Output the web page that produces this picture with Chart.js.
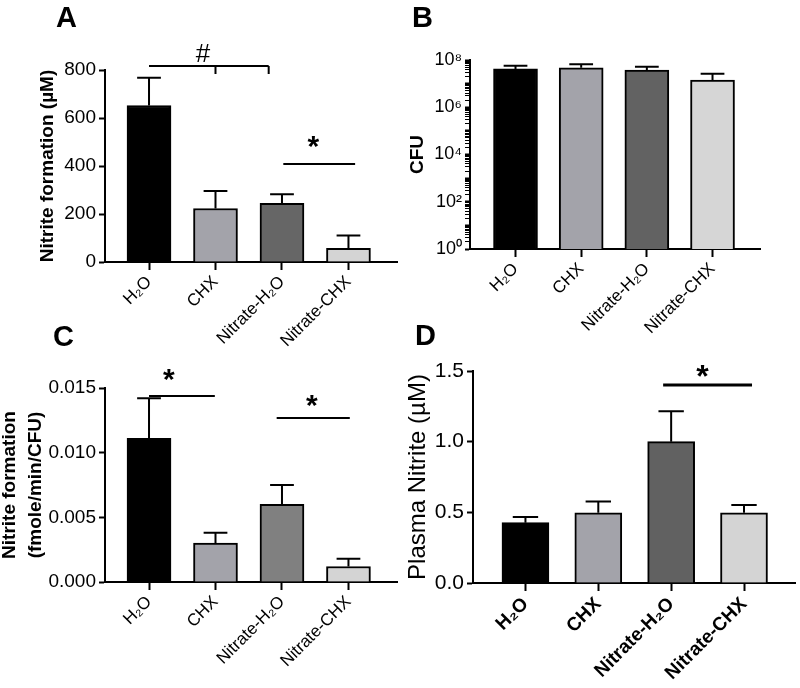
<!DOCTYPE html>
<html>
<head>
<meta charset="utf-8">
<script src="https://cdn.jsdelivr.net/npm/chart.js@4.4.1/dist/chart.umd.min.js"></script>
<style>
  body { margin: 0; background: #fff; width: 800px; height: 688px; position: relative; overflow: hidden; }
  canvas { position: absolute; }
  .tag { position: absolute; font: bold 29px "Liberation Sans", Arial, sans-serif; line-height: 1; color: #000; }
</style>
</head>
<body>
<canvas id="chartA" width="400" height="360" style="left:0;top:0"></canvas>
<canvas id="chartB" width="400" height="360" style="left:400px;top:0"></canvas>
<canvas id="chartC" width="400" height="358" style="left:0;top:330px"></canvas>
<canvas id="chartD" width="400" height="358" style="left:400px;top:330px"></canvas>
<div class="tag" style="left:56px;top:3px">A</div>
<div class="tag" style="left:412px;top:3px">B</div>
<div class="tag" style="left:53px;top:322px">C</div>
<div class="tag" style="left:415px;top:321px">D</div>
<script>
const groups = ['H₂O', 'CHX', 'Nitrate-H₂O', 'Nitrate-CHX'];

// A - nitrite formation (µM), mean and SEM
const nitriteMean = [652, 223, 244, 57];
const nitriteSem = [116, 73, 38, 53];

// B - CFU (log axis)
const cfuMean = [4.2e7, 4.7e7, 3.7e7, 1.4e7];
const cfuSem = [1.5e7, 1.9e7, 1.5e7, 1.2e7];
const cfuTickLabels = ['10⁰', '10²', '10⁴', '10⁶', '10⁸'];

// C - nitrite formation per CFU (fmole/min/CFU)
const perCfuMean = [0.0111, 0.0030, 0.0060, 0.0012];
const perCfuSem = [0.0031, 0.0008, 0.0015, 0.0006];

// D - plasma nitrite (µM)
const plasmaMean = [0.427, 0.497, 1.0, 0.497];
const plasmaSem = [0.04, 0.08, 0.215, 0.055];

const FONT = "'Liberation Sans', Arial, sans-serif";
Chart.defaults.font.family = FONT;
Chart.defaults.color = '#000';

// error bars (upper only) + significance brackets
const extras = {
    id: 'extras',
    afterDatasetsDraw(chart, args, opts) {
        const ctx = chart.ctx;
        const xs = chart.scales.x, ys = chart.scales.y;
        const meta = chart.getDatasetMeta(0);
        ctx.save();
        ctx.strokeStyle = '#000';
        ctx.fillStyle = '#000';
        ctx.lineWidth = 2;
        meta.data.forEach((bar, i) => {
            const top = ys.getPixelForValue(opts.means[i] + opts.errors[i]);
            const half = bar.width * 0.27;
            ctx.beginPath();
            ctx.moveTo(bar.x, bar.y);
            ctx.lineTo(bar.x, top);
            ctx.moveTo(bar.x - half, top);
            ctx.lineTo(bar.x + half, top);
            ctx.stroke();
        });
        (opts.marks || []).forEach(m => {
            const y = ys.getPixelForValue(m.y);
            ctx.lineWidth = m.lw || 2;
            ctx.beginPath();
            ctx.moveTo(xs.getPixelForValue(m.from), y);
            ctx.lineTo(xs.getPixelForValue(m.to), y);
            (m.ticks || []).forEach(t => {
                const tx = xs.getPixelForValue(t);
                ctx.moveTo(tx, y);
                ctx.lineTo(tx, y + 8);
            });
            ctx.stroke();
            ctx.font = m.font;
            ctx.textAlign = 'center';
            ctx.textBaseline = 'alphabetic';
            const tm = ctx.measureText(m.text);
            const cy = y - m.lift;
            ctx.fillText(m.text, xs.getPixelForValue(m.tx),
                cy + (tm.actualBoundingBoxAscent - tm.actualBoundingBoxDescent) / 2);
        });
        ctx.restore();
    }
};

function makeChart(id, cfg) {
    return new Chart(document.getElementById(id), {
        type: 'bar',
        data: {
            datasets: [{
                data: cfg.means.map((v, i) => ({ x: i, y: v })),
                backgroundColor: cfg.colors,
                borderColor: '#000',
                borderWidth: 2,
                barThickness: cfg.barW
            }]
        },
        options: {
            responsive: false,
            animation: false,
            layout: { padding: { top: cfg.padTop, right: cfg.padRight, left: 0, bottom: 0 } },
            plugins: {
                legend: { display: false },
                tooltip: { enabled: false },
                extras: { means: cfg.means, errors: cfg.errors, marks: cfg.marks }
            },
            scales: {
                x: {
                    type: 'linear',
                    min: cfg.xMin,
                    max: cfg.xMax,
                    offset: false,
                    afterBuildTicks: s => { s.ticks = groups.map((g, i) => ({ value: i })); },
                    afterFit: s => { s.height = cfg.xH; },
                    ticks: {
                        callback: v => groups[v],
                        minRotation: 45, maxRotation: 45, autoSkip: false,
                        font: cfg.xFont, color: '#000', padding: 2
                    },
                    grid: { drawOnChartArea: false, offset: false, tickLength: 8, tickWidth: 2, tickColor: '#000' },
                    border: { color: '#000', width: 2 }
                },
                y: Object.assign({
                    afterFit: s => { s.width = cfg.yW; },
                    grid: { drawOnChartArea: false, tickLength: 6, tickWidth: 2, tickColor: '#000' },
                    border: { color: '#000', width: 2 }
                }, cfg.y)
            }
        },
        plugins: [extras]
    });
}

// A
makeChart('chartA', {
    means: nitriteMean, errors: nitriteSem,
    colors: ['#000000', '#a3a3aa', '#666666', '#d4d4d4'],
    barW: 44, padTop: 70, padRight: 3, yW: 105, xH: 98,
    xMin: -0.662, xMax: 3.73,
    xFont: { size: 17 },
    y: {
        min: 0, max: 800,
        ticks: { stepSize: 200, font: { size: 19 }, padding: 3 },
        title: { display: true, text: 'Nitrite formation (µM)', color: '#000',
                 font: { size: 19, weight: 'bold' }, padding: { top: 36, bottom: 0 } }
    },
    marks: [
        { from: 0, to: 1.8, y: 817, ticks: [1.0, 1.8], text: '#', tx: 0.81, lift: 13, font: '26px ' + FONT },
        { from: 2.02, to: 3.1, y: 408, text: '*', tx: 2.47, lift: 22, font: 'bold 30px ' + FONT }
    ]
});

// B
makeChart('chartB', {
    means: cfuMean, errors: cfuSem,
    colors: ['#000000', '#a3a3aa', '#626262', '#d6d6d6'],
    barW: 44, padTop: 60, padRight: 40, yW: 70, xH: 111,
    xMin: -0.693, xMax: 3.723,
    xFont: { size: 17 },
    y: {
        type: 'logarithmic',
        min: 1, max: 1e8,
        afterBuildTicks: s => {
            const t = [];
            for (let e = 0; e < 8; e++) {
                for (let m = 1; m < 10; m++) t.push({ value: m * Math.pow(10, e) });
            }
            t.push({ value: 1e8 });
            s.ticks = t;
        },
        ticks: {
            autoSkip: false, font: { size: 18 }, padding: 3,
            callback: v => {
                const e = Math.round(Math.log10(v));
                return (Math.pow(10, e) === v && e % 2 === 0) ? cfuTickLabels[e / 2] : '';
            }
        },
        grid: {
            drawOnChartArea: false, tickLength: 5, tickColor: '#000',
            tickWidth: c => {
                const e = Math.round(Math.log10(c.tick.value));
                return Math.pow(10, e) === c.tick.value ? 2 : 1;
            }
        },
        title: { display: true, text: 'CFU', color: '#000',
                 font: { size: 19, weight: 'bold' }, padding: { top: 6, bottom: 0 } }
    },
    marks: []
});

// C
makeChart('chartC', {
    means: perCfuMean, errors: perCfuSem,
    colors: ['#000000', '#a3a3aa', '#808080', '#d4d4d4'],
    barW: 44, padTop: 58, padRight: 3, yW: 105, xH: 106,
    xMin: -0.662, xMax: 3.73,
    xFont: { size: 17 },
    y: {
        min: 0, max: 0.015,
        ticks: { stepSize: 0.005, font: { size: 19 }, padding: 3, callback: v => v.toFixed(3) },
        title: { display: true, text: ['Nitrite formation', '(fmole/min/CFU)'], color: '#000',
                 font: { size: 19, weight: 'bold', lineHeight: 1.4 }, padding: { top: -4, bottom: 0 } }
    },
    marks: [
        { from: 0, to: 0.99, y: 0.01438, text: '*', tx: 0.3, lift: 21.5, font: 'bold 30px ' + FONT },
        { from: 1.92, to: 3.02, y: 0.01268, text: '*', tx: 2.45, lift: 17, font: 'bold 30px ' + FONT }
    ]
});

// D
makeChart('chartD', {
    means: plasmaMean, errors: plasmaSem,
    colors: ['#000000', '#a3a3aa', '#616161', '#d4d4d4'],
    barW: 47, padTop: 41, padRight: 5, yW: 73, xH: 105,
    xMin: -0.72, xMax: 3.70,
    xFont: { size: 19, weight: 'bold' },
    y: {
        min: 0, max: 1.5,
        ticks: { stepSize: 0.5, font: { size: 21 }, padding: 3, callback: v => v.toFixed(1) },
        title: { display: true, text: 'Plasma Nitrite (µM)', color: '#000',
                 font: { size: 24 }, padding: { top: 4, bottom: 0 } }
    },
    marks: [
        { from: 1.89, to: 3.11, y: 1.401, text: '*', tx: 2.43, lift: 14, lw: 3, font: 'bold 32px ' + FONT }
    ]
});
</script>
</body>
</html>
